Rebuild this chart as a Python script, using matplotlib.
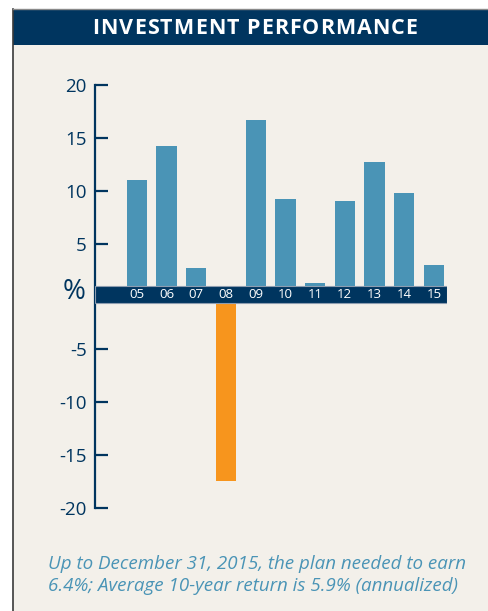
import matplotlib.pyplot as plt
from matplotlib.textpath import TextToPath
from matplotlib.font_manager import FontProperties
from matplotlib.patches import Rectangle

# Данные
years = ['05', '06', '07', '08', '09', '10', '11', '12', '13', '14', '15']
returns = [11.0, 14.2, 2.7, -17.4, 16.7, 9.2, 1.3, 9.0, 12.7, 9.8, 3.0]
y_ticks = [20, 15, 10, 5, 0, -5, -10, -15, -20]
y_labels = ['20', '15', '10', '5', '', '-5', '-10', '-15', '-20']
title = 'INVESTMENT PERFORMANCE'
note = ('Up to December 31, 2015, the plan needed to earn\n'
        '6.4%; Average 10-year return is 5.9% (annualized)')

navy = '#00355f'
blue = '#4a94b6'
orange = '#f7951d'
paper = '#f3f0ea'

W, H = 489, 611
fig = plt.figure(figsize=(W / 100, H / 100), dpi=100)
fig.patch.set_facecolor('white')

# Фон панели и рамка
fig.patches.append(Rectangle((13 / W, 0), 1, 1 - 10 / H, transform=fig.transFigure,
                             facecolor=paper, edgecolor='none', zorder=-2))
fig.patches.append(Rectangle((13 / W, 1 - 45 / H), 1, 35 / H, transform=fig.transFigure,
                             facecolor=navy, edgecolor='none', zorder=-1))
fig.lines.append(plt.Line2D([13 / W, 13 / W], [0, 1 - 9 / H], transform=fig.transFigure,
                            color='#3a3a3a', lw=1.2, zorder=2))
fig.lines.append(plt.Line2D([13 / W, 1], [1 - 9 / H, 1 - 9 / H], transform=fig.transFigure,
                            color='#8a8a8a', lw=1.0, zorder=2))

# Заголовок с разрядкой
fp = FontProperties(family='Open Sans', weight='bold', size=15.5)
t2p = TextToPath()
pt2px = 100 / 72
spacing = 1.0
offsets = []
for i in range(len(title)):
    w = t2p.get_text_width_height_descent(title[:i], fp, ismath=False)[0] if i else 0
    offsets.append(w * pt2px + i * spacing)
total = t2p.get_text_width_height_descent(title, fp, ismath=False)[0] * pt2px \
    + (len(title) - 1) * spacing
x0 = 255 - total / 2
for ch, off in zip(title, offsets):
    fig.text((x0 + off) / W, 1 - 28 / H, ch, fontproperties=fp, color='white',
             ha='left', va='center', zorder=3)

# Оси
ax = fig.add_axes([95 / W, 1 - 508 / H, (447 - 95) / W, (508 - 85) / H])
ax.set_zorder(5)
ax.set_facecolor('none')
ax.set_xlim(-1.41, 10.44)
ax.set_ylim(-20, 20)

colors = [orange if v < 0 else blue for v in returns]
ax.bar(range(len(years)), returns, width=0.68, color=colors, zorder=2)

# Полоса нуля с подписями лет
ax.axhspan(-0.6, 0.95, facecolor=navy, edgecolor='#8d9db0', lw=0.8, zorder=3)
for i, yr in enumerate(years):
    ax.text(i, 0.15, yr, color='white', fontsize=9.5, family='Open Sans',
            ha='center', va='center', zorder=4)

for s in ['top', 'right', 'bottom']:
    ax.spines[s].set_visible(False)
ax.spines['left'].set_color(navy)
ax.spines['left'].set_linewidth(1.6)
ax.set_xticks([])
ax.set_yticks(y_ticks)
ax.set_yticklabels(y_labels, fontsize=13.5, color=navy, family='Open Sans')
ax.tick_params(axis='y', direction='in', length=9, width=1.6, color=navy, pad=6)

fig.text(74 / W, 1 - 292 / H, '%', fontsize=20, color=navy, family='Open Sans',
         ha='center', va='center')

# Примечание
fig.text(48 / W, 1 - 575 / H, note, fontsize=13.5, color=blue, family='Open Sans',
         style='italic', ha='left', va='center', linespacing=1.3)

fig.savefig('out.png', dpi=100, facecolor=fig.get_facecolor())
